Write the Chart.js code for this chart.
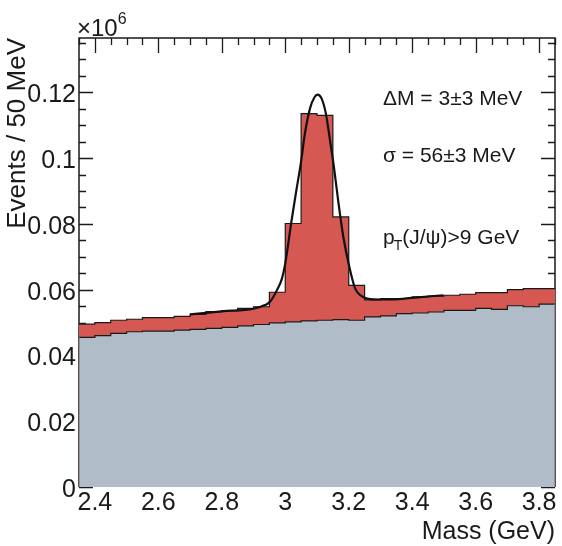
<!DOCTYPE html>
<html>
<head>
<meta charset="utf-8">
<script src="https://cdn.jsdelivr.net/npm/chart.js@4/dist/chart.umd.min.js"></script>
<style>
  html, body { margin: 0; padding: 0; background: #fff; }
  #wrap { width: 562px; height: 546px; }
</style>
</head>
<body>
<div id="wrap"><canvas id="c" width="562" height="546"></canvas></div>
<script>
// Dimuon invariant mass, 50 MeV bins from 2.35 to 3.85 GeV (values in units of 10^6 events)
const binEdges = [2.35, 2.40, 2.45, 2.50, 2.55, 2.60, 2.65, 2.70, 2.75, 2.80,
                  2.85, 2.90, 2.95, 3.00, 3.05, 3.10, 3.15, 3.20, 3.25, 3.30,
                  3.35, 3.40, 3.45, 3.50, 3.55, 3.60, 3.65, 3.70, 3.75, 3.80, 3.85];

// Background-only contribution per bin
const background = [0.0455, 0.0460, 0.0467, 0.0472, 0.0474, 0.0474, 0.0477, 0.0479, 0.0482, 0.0485,
                    0.0490, 0.0494, 0.0499, 0.0502, 0.0505, 0.0507, 0.0509, 0.0507, 0.0517, 0.0520,
                    0.0527, 0.0529, 0.0532, 0.0537, 0.0537, 0.0543, 0.0540, 0.0551, 0.0548, 0.0556];

// Signal + background per bin
const signalPlusBackground = [0.0495, 0.0500, 0.0507, 0.0510, 0.0515, 0.0515, 0.0519, 0.0525, 0.0533, 0.0536,
                              0.0543, 0.0548, 0.0592, 0.0801, 0.1135, 0.1130, 0.0821, 0.0613, 0.0569, 0.0573,
                              0.0573, 0.0578, 0.0580, 0.0583, 0.0586, 0.0591, 0.0591, 0.0600, 0.0603, 0.0603];

// Fitted J/psi peak on a linear background
const fitMass  = [2.700, 2.800, 2.900, 2.936, 2.952, 2.973, 2.989, 3.000, 3.020, 3.036,
                  3.049, 3.062, 3.078, 3.092, 3.102, 3.115, 3.128, 3.141, 3.154, 3.167,
                  3.183, 3.202, 3.220, 3.241, 3.262, 3.300, 3.356, 3.409, 3.498];
const fitValue = [0.0525, 0.0534, 0.0542, 0.0553, 0.0563, 0.0597, 0.0632, 0.0680, 0.0811, 0.0908,
                  0.0984, 0.1075, 0.1151, 0.1185, 0.1193, 0.1180, 0.1135, 0.1054, 0.0968, 0.0868,
                  0.0760, 0.0669, 0.0604, 0.0580, 0.0572, 0.0570, 0.0571, 0.0576, 0.0583];

const xTicks = [2.4, 2.6, 2.8, 3.0, 3.2, 3.4, 3.6, 3.8];
const yTicks = [0, 0.02, 0.04, 0.06, 0.08, 0.10, 0.12];

const annotations = ['\u0394M = 3\u00b13 MeV', '\u03c3 = 56\u00b13 MeV'];

const FONT = '"Liberation Sans", Arial, Helvetica, sans-serif';
const INK = '#1a1a1a';

function stepPoints(values) {
  const pts = values.map((v, i) => ({ x: binEdges[i], y: v }));
  pts.push({ x: binEdges[binEdges.length - 1], y: values[values.length - 1] });
  return pts;
}

// Frame and inward tick marks, drawn beneath the histograms
const framePlugin = {
  id: 'frame',
  beforeDatasetsDraw(chart) {
    const { ctx, chartArea: a, scales: { x, y } } = chart;
    ctx.save();
    ctx.strokeStyle = INK;
    ctx.lineWidth = 1.5;
    ctx.beginPath();
    ctx.moveTo(a.left, a.bottom); ctx.lineTo(a.left, a.top);
    ctx.lineTo(a.right, a.top); ctx.lineTo(a.right, a.bottom);
    ctx.stroke();
    ctx.lineWidth = 1.3;
    ctx.beginPath();
    // y ticks, left and right sides
    for (let k = 0; k <= 27; k++) {
      const v = k * 0.005;
      if (v > y.max) break;
      const py = Math.round(y.getPixelForValue(v)) + 0.5;
      const len = (k % 4 === 0) ? 14 : 7;
      ctx.moveTo(a.left, py); ctx.lineTo(a.left + len, py);
      ctx.moveTo(a.right, py); ctx.lineTo(a.right - len, py);
    }
    // x ticks along the top
    for (let k = 0; k <= 30; k++) {
      const v = 2.35 + k * 0.05;
      if (v > x.max + 1e-9) break;
      const px = Math.round(x.getPixelForValue(v)) + 0.5;
      const major = Math.abs((v - 2.4) / 0.2 - Math.round((v - 2.4) / 0.2)) < 1e-6;
      ctx.moveTo(px, a.top); ctx.lineTo(px, a.top + (major ? 15 : 7));
    }
    ctx.stroke();
    ctx.restore();
  },
  afterDatasetsDraw(chart) {
    const { ctx, chartArea: a, scales: { y } } = chart;
    ctx.save();
    // faint edges of the histogram below the fill
    ctx.strokeStyle = 'rgba(150,120,130,0.7)';
    ctx.lineWidth = 1;
    ctx.beginPath();
    ctx.moveTo(a.left + 0.5, y.getPixelForValue(background[0]));
    ctx.lineTo(a.left + 0.5, a.bottom);
    ctx.moveTo(a.right - 0.5, y.getPixelForValue(background[background.length - 1]));
    ctx.lineTo(a.right - 0.5, a.bottom);
    ctx.stroke();

    ctx.fillStyle = INK;
    ctx.textBaseline = 'alphabetic';
    ctx.textAlign = 'left';
    // axis multiplier
    ctx.font = '24px ' + FONT;
    ctx.fillText('\u00d710', 77, 36);
    const wm = ctx.measureText('\u00d710').width;
    ctx.font = '16px ' + FONT;
    ctx.fillText('6', 77 + wm, 24);
    // fit results
    ctx.font = '21px ' + FONT;
    ctx.fillText(annotations[0], 383, 105);
    ctx.fillText(annotations[1], 383, 162);
    ctx.fillText('p', 383, 244);
    const w = ctx.measureText('p').width;
    ctx.font = '14px ' + FONT;
    ctx.fillText('T', 383 + w - 1, 250);
    const wT = ctx.measureText('T').width;
    ctx.font = '21px ' + FONT;
    ctx.fillText('(J/\u03c8)>9 GeV', 383 + w - 1 + wT, 244);
    ctx.restore();
  }
};

new Chart(document.getElementById('c'), {
  type: 'line',
  data: {
    datasets: [
      {
        label: 'fit',
        data: fitMass.map((m, i) => ({ x: m, y: fitValue[i] })),
        borderColor: '#111',
        borderWidth: 2.2,
        pointRadius: 0,
        fill: false,
        cubicInterpolationMode: 'monotone',
        order: 0
      },
      {
        label: 'background',
        data: stepPoints(background),
        stepped: true,
        borderColor: '#1a1a1a',
        borderWidth: 1.2,
        backgroundColor: '#b0bcc7',
        pointRadius: 0,
        fill: 'origin',
        order: 1
      },
      {
        label: 'signal + background',
        data: stepPoints(signalPlusBackground),
        stepped: true,
        borderColor: '#1a1a1a',
        borderWidth: 1.2,
        backgroundColor: '#d55852',
        pointRadius: 0,
        fill: 'origin',
        order: 2
      }
    ]
  },
  options: {
    responsive: false,
    animation: false,
    devicePixelRatio: 1,
    layout: { padding: { left: 0, top: 38, right: 7, bottom: 0 } },
    plugins: { legend: { display: false }, tooltip: { enabled: false } },
    scales: {
      x: {
        type: 'linear',
        min: 2.35,
        max: 3.85,
        afterBuildTicks: s => { s.ticks = xTicks.map(v => ({ value: v })); },
        afterFit: s => { s.height = 59; },
        grid: { display: false, drawTicks: false },
        border: { display: false },
        ticks: {
          padding: 1,
          autoSkip: false,
          maxRotation: 0,
          color: INK,
          font: { family: FONT, size: 25, lineHeight: 1.2 },
          callback: v => String(+v.toFixed(2))
        },
        title: {
          display: true,
          text: 'Mass (GeV)',
          align: 'end',
          color: INK,
          padding: { top: 0, bottom: 1 },
          font: { family: FONT, size: 25, lineHeight: 1 }
        }
      },
      y: {
        type: 'linear',
        min: 0,
        max: 0.1365,
        afterBuildTicks: s => { s.ticks = yTicks.map(v => ({ value: v })); },
        afterFit: s => { s.width = 79; },
        grid: { display: false, drawTicks: false },
        border: { display: false },
        ticks: {
          padding: 3,
          labelOffset: 3,
          autoSkip: false,
          color: INK,
          font: { family: FONT, size: 25, lineHeight: 1.2 },
          callback: v => String(+v.toFixed(3))
        },
        title: {
          display: true,
          text: 'Events / 50 MeV',
          align: 'end',
          color: INK,
          padding: { top: 5, bottom: 0 },
          font: { family: FONT, size: 26, lineHeight: 1 }
        }
      }
    }
  },
  plugins: [framePlugin]
});
</script>
</body>
</html>
